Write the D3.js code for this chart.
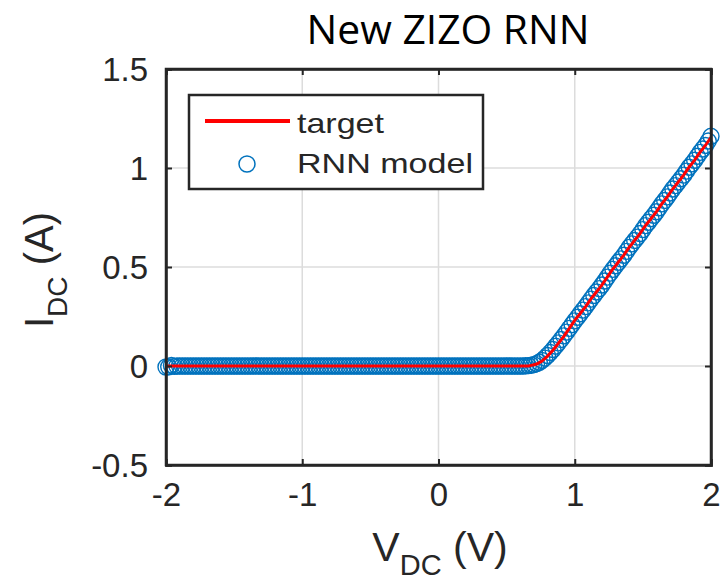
<!DOCTYPE html>
<html><head><meta charset="utf-8">
<script src="https://cdn.jsdelivr.net/npm/d3@7"></script>
<style>body{margin:0;background:#fff}</style>
</head><body>
<svg id="c" width="721" height="581"></svg>
<script>
const voltage = [
-2,-1.98,-1.96,-1.94,-1.92,-1.9,-1.88,-1.86,-1.84,-1.82,
-1.8,-1.78,-1.76,-1.74,-1.72,-1.7,-1.68,-1.66,-1.64,-1.62,
-1.6,-1.58,-1.56,-1.54,-1.52,-1.5,-1.48,-1.46,-1.44,-1.42,
-1.4,-1.38,-1.36,-1.34,-1.32,-1.3,-1.28,-1.26,-1.24,-1.22,
-1.2,-1.18,-1.16,-1.14,-1.12,-1.1,-1.08,-1.06,-1.04,-1.02,
-1,-0.98,-0.96,-0.94,-0.92,-0.9,-0.88,-0.86,-0.84,-0.82,
-0.8,-0.78,-0.76,-0.74,-0.72,-0.7,-0.68,-0.66,-0.64,-0.62,
-0.6,-0.58,-0.56,-0.54,-0.52,-0.5,-0.48,-0.46,-0.44,-0.42,
-0.4,-0.38,-0.36,-0.34,-0.32,-0.3,-0.28,-0.26,-0.24,-0.22,
-0.2,-0.18,-0.16,-0.14,-0.12,-0.1,-0.08,-0.06,-0.04,-0.02,
0,0.02,0.04,0.06,0.08,0.1,0.12,0.14,0.16,0.18,
0.2,0.22,0.24,0.26,0.28,0.3,0.32,0.34,0.36,0.38,
0.4,0.42,0.44,0.46,0.48,0.5,0.52,0.54,0.56,0.58,
0.6,0.62,0.64,0.66,0.68,0.7,0.72,0.74,0.76,0.78,
0.8,0.82,0.84,0.86,0.88,0.9,0.92,0.94,0.96,0.98,
1,1.02,1.04,1.06,1.08,1.1,1.12,1.14,1.16,1.18,
1.2,1.22,1.24,1.26,1.28,1.3,1.32,1.34,1.36,1.38,
1.4,1.42,1.44,1.46,1.48,1.5,1.52,1.54,1.56,1.58,
1.6,1.62,1.64,1.66,1.68,1.7,1.72,1.74,1.76,1.78,
1.8,1.82,1.84,1.86,1.88,1.9,1.92,1.94,1.96,1.98,
2];
const targetCurrent = [
0,0,0,0,0,0,0,0,0,0,
0,0,0,0,0,0,0,0,0,0,
0,0,0,0,0,0,0,0,0,0,
0,0,0,0,0,0,0,0,0,0,
0,0,0,0,0,0,0,0,0,0,
0,0,0,0,0,0,0,0,0,0,
0,0,0,0,0,0,0,0,0,0,
0,0,0,0,0,0,0,0,0,0,
0,0,0,0,0,0,0,0,0,0,
0,0,0,0,0,0,0,0,0,0,
0,0,0,0,0,0,0,0,0,0,
0,0,0,0,0,0,0,0,0,0,
0,0,0,0,0,0,0,0,0,0,
0,0,0,0,
0.003,0.006,0.01,0.017,0.025,0.037,0.05,0.065,0.08,0.097,
0.115,0.132,0.15,0.17,0.19,0.21,0.23,0.248,0.265,0.283,
0.3,0.32,0.34,0.357,0.375,0.392,0.41,0.43,0.45,0.47,
0.49,0.507,0.525,0.542,0.56,0.58,0.6,0.617,0.635,0.652,
0.67,0.69,0.71,0.727,0.745,0.762,0.78,0.8,0.82,0.837,
0.855,0.875,0.895,0.912,0.93,0.947,0.965,0.985,1.005,1.022,
1.04,1.06,1.08,1.097,1.115,1.135,1.155];
const modelCurrent = [
-0.005,-0.004,0.003,-0.002,0,0,0,0,0,0,
0,0,0,0,0,0,0,0,0,0,
0,0,0,0,0,0,0,0,0,0,
0,0,0,0,0,0,0,0,0,0,
0,0,0,0,0,0,0,0,0,0,
0,0,0,0,0,0,0,0,0,0,
0,0,0,0,0,0,0,0,0,0,
0,0,0,0,0,0,0,0,0,0,
0,0,0,0,0,0,0,0,0,0,
0,0,0,0,0,0,0,0,0,0,
0,0,0,0,0,0,0,0,0,0,
0,0,0,0,0,0,0,0,0,0,
0,0,0,0,0,0,0,0,0,0,
0,0,0.001,0.002,
0.004,0.007,0.012,0.019,0.028,0.04,0.053,0.068,0.083,0.1,
0.117,0.134,0.152,0.171,0.19,0.209,0.228,0.246,0.264,0.282,
0.3,0.319,0.338,0.356,0.374,0.391,0.409,0.429,0.449,0.469,
0.488,0.506,0.524,0.541,0.559,0.579,0.599,0.617,0.634,0.651,
0.669,0.689,0.709,0.726,0.744,0.761,0.779,0.799,0.819,0.836,
0.854,0.874,0.894,0.911,0.929,0.946,0.964,0.984,1.004,1.021,
1.039,1.059,1.079,1.096,1.114,1.136,1.16];
const xTicks = [-2,-1,0,1,2];
const xTickLabels = ["-2","-1","0","1","2"];
const yTicks = [-0.5,0,0.5,1,1.5];
const yTickLabels = ["-0.5","0","0.5","1","1.5"];
const legendLabels = ["target","RNN model"];
const titleText = "New ZIZO RNN";

const svg = d3.select("#c");
const L = 166, R = 711, T = 69, B = 465;
const x = d3.scaleLinear().domain([-2,2]).range([L,R]);
const y = d3.scaleLinear().domain([-0.5,1.5]).range([B,T]);
const axisColor = "#262626";
const font = "'Liberation Sans', Arial, sans-serif";

// grid
const g = svg.append("g");
g.selectAll(".gx").data(xTicks).join("line")
  .attr("x1", d=>x(d)).attr("x2", d=>x(d)).attr("y1", T).attr("y2", B)
  .attr("stroke", "#dcdcdc").attr("stroke-width", 1.5);
g.selectAll(".gy").data(yTicks).join("line")
  .attr("y1", d=>y(d)).attr("y2", d=>y(d)).attr("x1", L).attr("x2", R)
  .attr("stroke", "#dcdcdc").attr("stroke-width", 1.5);

const pts = voltage.map((v,i)=>({v, t: targetCurrent[i], m: modelCurrent[i]}))
  .filter(d=>d.t!==undefined && d.m!==undefined);

// model markers
svg.append("g").selectAll("circle").data(pts).join("circle")
  .attr("cx", d=>x(d.v)).attr("cy", d=>y(d.m)).attr("r", 8)
  .attr("fill","none").attr("stroke","#0072BD").attr("stroke-width",1.4);

// target line
svg.append("path").datum(pts)
  .attr("d", d3.line().x(d=>x(d.v)).y(d=>y(d.t)))
  .attr("fill","none").attr("stroke","#ff0000").attr("stroke-width",3);

// axes (box with inward ticks)
const tl = 6;
const axB = svg.append("g").attr("transform",`translate(0,${B})`)
  .call(d3.axisBottom(x).tickValues(xTicks).tickSize(-tl).tickFormat((d,i)=>xTickLabels[i]).tickPadding(17));
const axT = svg.append("g").attr("transform",`translate(0,${T})`)
  .call(d3.axisTop(x).tickValues(xTicks).tickSize(-tl).tickFormat(""));
const axL = svg.append("g").attr("transform",`translate(${L},0)`)
  .call(d3.axisLeft(y).tickValues(yTicks).tickSize(-tl).tickFormat((d,i)=>yTickLabels[i]).tickPadding(18));
const axR = svg.append("g").attr("transform",`translate(${R},0)`)
  .call(d3.axisRight(y).tickValues(yTicks).tickSize(-tl).tickFormat(""));
[axB,axT,axL,axR].forEach(a=>{
  a.select(".domain").attr("stroke",axisColor).attr("stroke-width",2.5);
  a.selectAll(".tick line").attr("stroke",axisColor).attr("stroke-width",2);
  a.selectAll("text").attr("fill","#262626").attr("font-family",font).attr("font-size",33);
});
axB.selectAll(".tick text").attr("dy","0.72em");
axL.selectAll(".tick text").attr("dy","0.36em");
svg.append("rect").attr("x",L).attr("y",T).attr("width",R-L).attr("height",B-T)
  .attr("fill","none").attr("stroke",axisColor).attr("stroke-width",2.5);

// title
svg.append("text").attr("x",448).attr("y",44).attr("text-anchor","middle")
  .attr("font-family","'Open Sans', sans-serif").attr("font-size",40)
  .attr("textLength",283).attr("lengthAdjust","spacingAndGlyphs")
  .attr("fill","#000").text(titleText);

// x label
const xl = svg.append("text").attr("x",440).attr("y",561).attr("text-anchor","middle")
  .attr("font-family",font).attr("font-size",41).attr("fill","#262626");
xl.append("tspan").text("V");
xl.append("tspan").attr("font-size",29).attr("dy",14).text("DC");
xl.append("tspan").attr("dy",-14).text(" (V)");

// y label
const yl = svg.append("text").attr("transform","translate(53,270) rotate(-90)").attr("text-anchor","middle")
  .attr("font-family",font).attr("font-size",40).attr("fill","#262626");
yl.append("tspan").text("I");
yl.append("tspan").attr("font-size",28).attr("dy",14).text("DC");
yl.append("tspan").attr("dy",-14).text(" (A)");

// legend
const lg = svg.append("g");
lg.append("rect").attr("x",189).attr("y",95).attr("width",294).attr("height",94)
  .attr("fill","#fff").attr("stroke",axisColor).attr("stroke-width",2.5);
lg.append("line").attr("x1",205).attr("x2",290).attr("y1",121).attr("y2",121)
  .attr("stroke","#ff0000").attr("stroke-width",4);
lg.append("circle").attr("cx",247).attr("cy",164).attr("r",8)
  .attr("fill","none").attr("stroke","#0072BD").attr("stroke-width",1.5);
lg.append("text").attr("x",297).attr("y",133).attr("font-family",font).attr("font-size",28)
  .attr("textLength",87).attr("lengthAdjust","spacingAndGlyphs").attr("fill","#262626").text(legendLabels[0]);
lg.append("text").attr("x",297).attr("y",173).attr("font-family",font).attr("font-size",28)
  .attr("textLength",176).attr("lengthAdjust","spacingAndGlyphs").attr("fill","#262626").text(legendLabels[1]);
</script>
</body></html>
